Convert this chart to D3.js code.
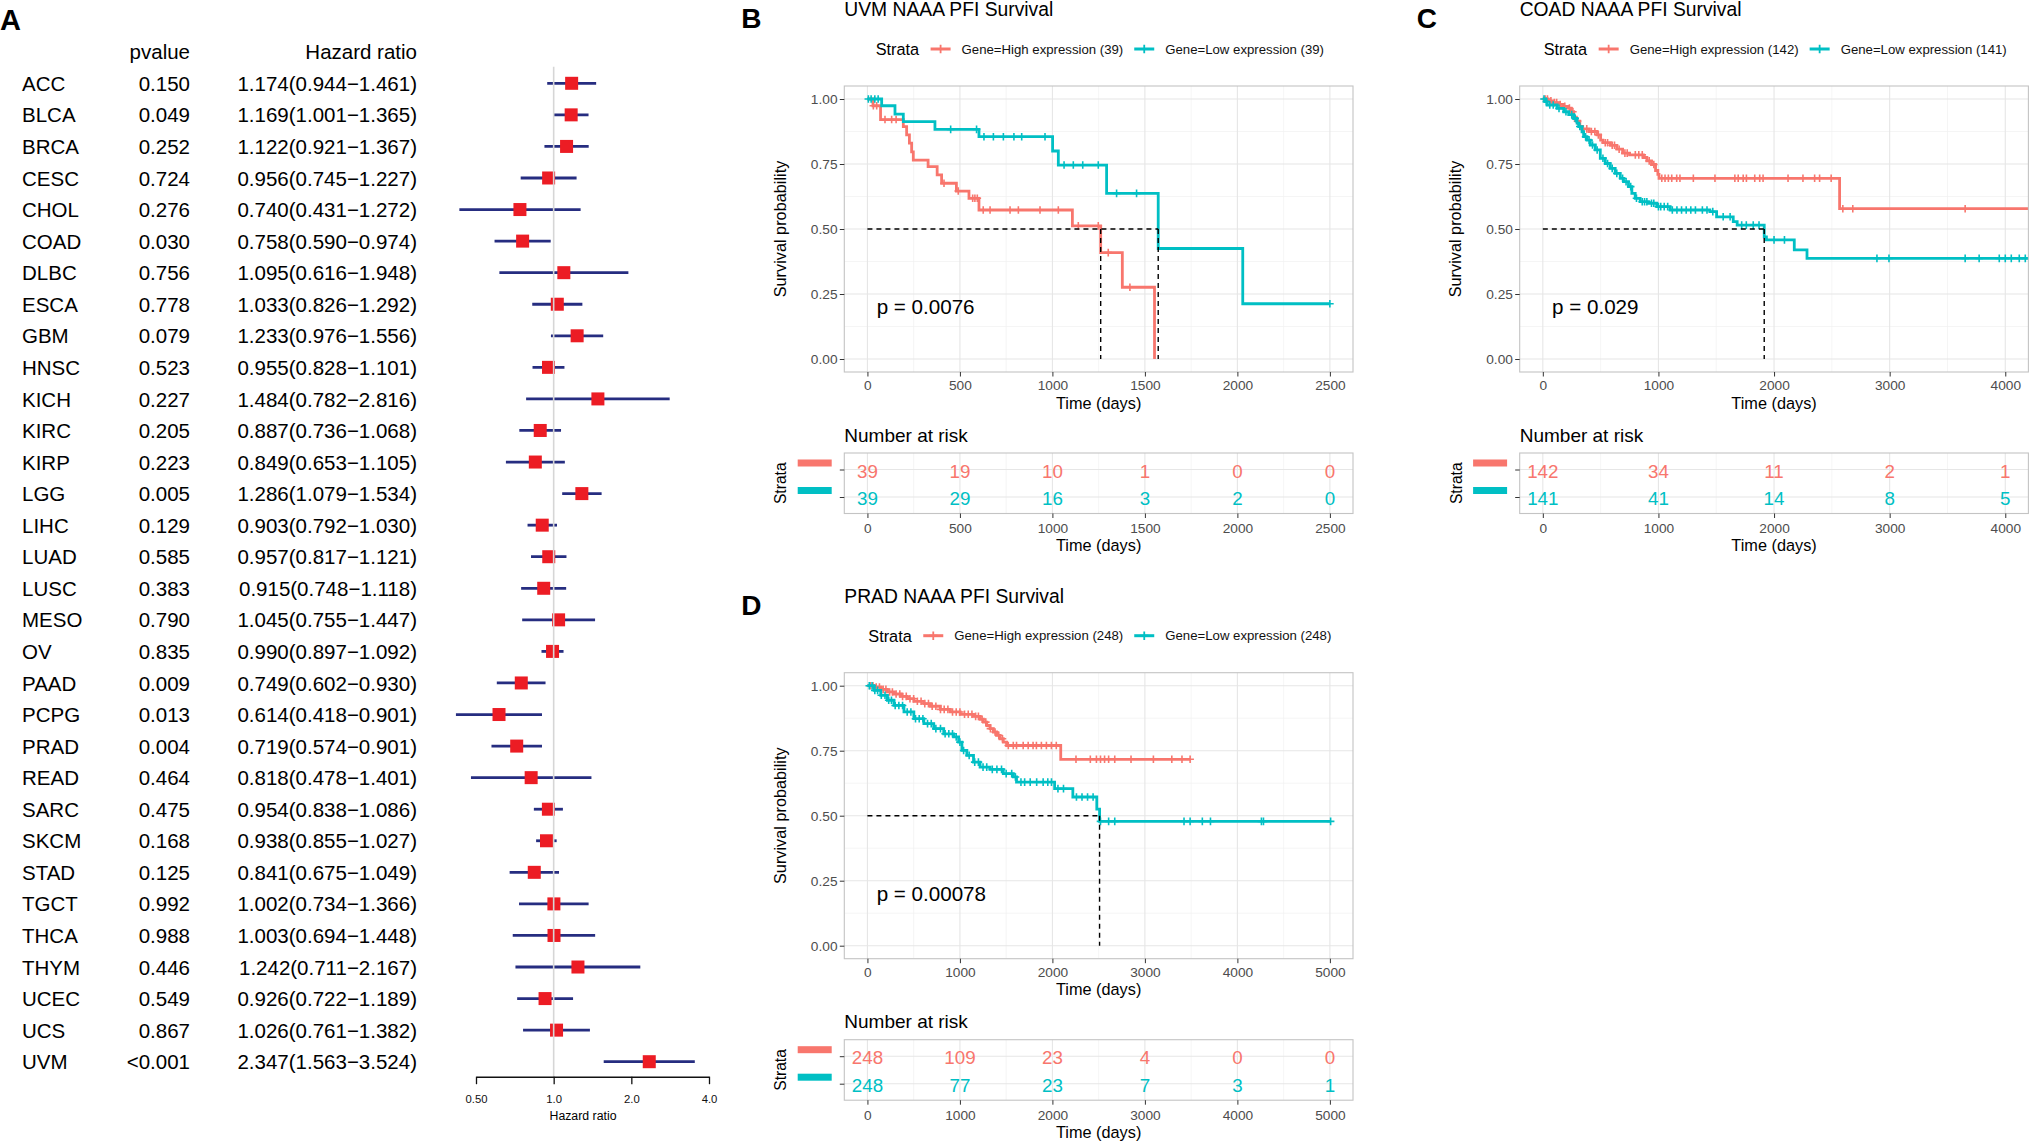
<!DOCTYPE html>
<html>
<head>
<meta charset="utf-8">
<title>NAAA PFI survival</title>
<script src="https://cdn.jsdelivr.net/npm/d3@7/dist/d3.min.js"></script>
<style>
  body { margin: 0; background: #fff; }
  svg text { font-family: "Liberation Sans", Arial, Helvetica, sans-serif; }
</style>
</head>
<body>
<script>
// ---------- Panel A: univariate Cox (PFI), one row per cancer ----------
var cancers = ["ACC", "BLCA", "BRCA", "CESC", "CHOL", "COAD", "DLBC", "ESCA", "GBM", "HNSC", "KICH",
  "KIRC", "KIRP", "LGG", "LIHC", "LUAD", "LUSC", "MESO", "OV", "PAAD", "PCPG", "PRAD", "READ", "SARC",
  "SKCM", "STAD", "TGCT", "THCA", "THYM", "UCEC", "UCS", "UVM"];
var pvalues = ["0.150", "0.049", "0.252", "0.724", "0.276", "0.030", "0.756", "0.778", "0.079", "0.523",
  "0.227", "0.205", "0.223", "0.005", "0.129", "0.585", "0.383", "0.790", "0.835", "0.009", "0.013",
  "0.004", "0.464", "0.475", "0.168", "0.125", "0.992", "0.988", "0.446", "0.549", "0.867", "<0.001"];
var hazard = [1.174, 1.169, 1.122, 0.956, 0.740, 0.758, 1.095, 1.033, 1.233, 0.955, 1.484, 0.887, 0.849,
  1.286, 0.903, 0.957, 0.915, 1.045, 0.990, 0.749, 0.614, 0.719, 0.818, 0.954, 0.938, 0.841, 1.002,
  1.003, 1.242, 0.926, 1.026, 2.347];
var lower95 = [0.944, 1.001, 0.921, 0.745, 0.431, 0.590, 0.616, 0.826, 0.976, 0.828, 0.782, 0.736, 0.653,
  1.079, 0.792, 0.817, 0.748, 0.755, 0.897, 0.602, 0.418, 0.574, 0.478, 0.838, 0.855, 0.675, 0.734,
  0.694, 0.711, 0.722, 0.761, 1.563];
var upper95 = [1.461, 1.365, 1.367, 1.227, 1.272, 0.974, 1.948, 1.292, 1.556, 1.101, 2.816, 1.068, 1.105,
  1.534, 1.030, 1.121, 1.118, 1.447, 1.092, 0.930, 0.901, 0.901, 1.401, 1.086, 1.027, 1.049, 1.366,
  1.448, 2.167, 1.189, 1.382, 3.524];
var hrTicks = [0.5, 1, 2, 4];
var hrTickLabels = ["0.50", "1.0", "2.0", "4.0"];

// ---------- Panels B-D: Kaplan-Meier, [time, survival after drop] ----------
var survTicks = [0, 0.25, 0.5, 0.75, 1];

// UVM
var uvmBreaks = [0, 500, 1000, 1500, 2000, 2500];
var uvmHighSteps = [[30, 0.974], [71, 0.921], [194, 0.894], [212, 0.862], [227, 0.83], [239, 0.797],
  [248, 0.765], [328, 0.74], [377, 0.708], [401, 0.676], [481, 0.646], [549, 0.618], [603, 0.573],
  [1108, 0.512], [1261, 0.409], [1378, 0.276], [1552, 0]];
var uvmHighCensor = [32, 50, 95, 131, 155, 414, 491, 569, 581, 594, 626, 663, 771, 816, 933, 1032, 1140,
  1248, 1302, 1419];
var uvmLowSteps = [[77, 0.974], [149, 0.942], [194, 0.913], [365, 0.883], [603, 0.855], [1001, 0.80],
  [1032, 0.746], [1293, 0.637], [1572, 0.425], [2029, 0.2125]];
var uvmLowCensor = [5, 20, 40, 58, 450, 590, 630, 681, 735, 792, 834, 960, 1063, 1113, 1164, 1248, 1347,
  1455, 2500];
var uvmHighRisk = [39, 19, 10, 1, 0, 0];
var uvmLowRisk = [39, 29, 16, 3, 2, 0];

// COAD
var coadBreaks = [0, 1000, 2000, 3000, 4000];
var coadHighSteps = [[45, 0.993], [95, 0.986], [140, 0.979], [180, 0.972], [215, 0.965], [245, 0.951],
  [267, 0.93], [290, 0.915], [320, 0.895], [335, 0.885], [400, 0.875], [470, 0.862], [500, 0.842],
  [520, 0.832], [585, 0.822], [640, 0.807], [690, 0.792], [750, 0.785], [870, 0.775], [900, 0.762],
  [940, 0.748], [975, 0.725], [995, 0.71], [1005, 0.695], [2567, 0.578]];
var coadHighCensor = [20, 40, 70, 100, 120, 150, 190, 230, 260, 300, 350, 380, 420, 450, 480, 540, 560,
  600, 620, 660, 710, 730, 800, 830, 860, 920, 960, 1029, 1057, 1086, 1115, 1158, 1186, 1302, 1489,
  1661, 1690, 1733, 1761, 1833, 1876, 1905, 2121, 2250, 2351, 2394, 2494, 2595, 2681, 3653];
var coadLowSteps = [[23, 0.99], [37, 0.977], [124, 0.964], [181, 0.951], [224, 0.94], [267, 0.925],
  [296, 0.907], [310, 0.894], [339, 0.874], [353, 0.855], [382, 0.842], [411, 0.823], [454, 0.804],
  [497, 0.772], [540, 0.752], [583, 0.733], [626, 0.714], [670, 0.695], [698, 0.682], [741, 0.663],
  [770, 0.637], [799, 0.618], [842, 0.605], [914, 0.599], [986, 0.586], [1101, 0.573], [1445, 0.567],
  [1503, 0.547], [1647, 0.528], [1681, 0.515], [1915, 0.47], [1934, 0.458], [2175, 0.42], [2285, 0.387]];
var coadLowCensor = [10, 30, 60, 90, 140, 200, 250, 280, 320, 370, 400, 430, 470, 520, 560, 600, 640,
  690, 720, 760, 810, 860, 880, 900, 940, 960, 1000, 1020, 1050, 1080, 1120, 1160, 1200, 1240, 1280,
  1320, 1380, 1420, 1470, 1560, 1620, 1720, 1760, 1820, 1870, 2000, 2090, 2890, 2994, 3653, 3774,
  3948, 4000, 4052, 4121, 4173];
var coadHighRisk = [142, 34, 11, 2, 1];
var coadLowRisk = [141, 41, 14, 8, 5];

// PRAD
var pradBreaks = [0, 1000, 2000, 3000, 4000, 5000];
var pradHighSteps = [[72, 0.995], [144, 0.986], [216, 0.976], [287, 0.968], [359, 0.959], [430, 0.95],
  [502, 0.94], [610, 0.931], [681, 0.921], [789, 0.909], [896, 0.899], [1003, 0.89], [1147, 0.882],
  [1218, 0.871], [1254, 0.86], [1290, 0.847], [1326, 0.835], [1362, 0.822], [1397, 0.809],
  [1433, 0.796], [1469, 0.783], [1505, 0.77], [2090, 0.717]];
var pradHighCensor = [30, 60, 95, 130, 170, 200, 240, 270, 310, 350, 380, 420, 460, 500, 540, 580, 620,
  660, 700, 740, 790, 830, 870, 920, 960, 1000, 1050, 1090, 1130, 1170, 1200, 1240, 1280, 1330, 1380,
  1420, 1460, 1523, 1577, 1612, 1684, 1738, 1791, 1827, 1881, 1935, 1989, 2042, 2255, 2410, 2476,
  2520, 2564, 2608, 2674, 2850, 3092, 3291, 3401, 3489];
var pradLowSteps = [[72, 0.982], [144, 0.963], [216, 0.944], [287, 0.924], [395, 0.899], [502, 0.873],
  [610, 0.854], [717, 0.835], [825, 0.815], [932, 0.803], [986, 0.783], [1022, 0.751], [1075, 0.732],
  [1147, 0.706], [1218, 0.687], [1326, 0.678], [1469, 0.662], [1577, 0.649], [1612, 0.629],
  [2024, 0.604], [2221, 0.572], [2480, 0.525], [2510, 0.478]];
var pradLowCensor = [20, 50, 80, 110, 150, 190, 230, 260, 300, 340, 380, 430, 470, 520, 560, 600, 650,
  690, 740, 790, 840, 880, 920, 960, 1000, 1040, 1100, 1160, 1200, 1250, 1290, 1350, 1400, 1450, 1500,
  1560, 1600, 1660, 1700, 1760, 1830, 1900, 1950, 1990, 2060, 2120, 2260, 2320, 2380, 2440, 2520,
  2608, 2674, 3423, 3489, 3621, 3709, 4260, 4282, 5008];
var pradHighRisk = [248, 109, 23, 4, 0, 0];
var pradLowRisk = [248, 77, 23, 7, 3, 1];

var colHigh = "#F8766D", colLow = "#00BFC4";

var W = 2030, H = 1142;
var svg = d3.select("body").append("svg").attr("width", W).attr("height", H);
svg.append("rect").attr("width", W).attr("height", H).attr("fill", "#fff");

// ================= Panel A =================
var gA = svg.append("g");
var fx = d3.scaleLog().base(2).domain([0.5, 4]).range([476, 709]);
var fy = d3.scalePoint().domain(cancers).range([83.3, 1061.7]);
var rowFont = 20.5;

gA.append("text").attr("x", 0).attr("y", 30).attr("font-size", 29).attr("font-weight", "bold").text("A");

var headY = fy(cancers[0]) - fy.step();
gA.append("text").attr("x", 190).attr("y", headY).attr("dy", "0.37em").attr("text-anchor", "end")
  .attr("font-size", rowFont).text("pvalue");
gA.append("text").attr("x", 417).attr("y", headY).attr("dy", "0.37em").attr("text-anchor", "end")
  .attr("font-size", rowFont).text("Hazard ratio");

var rows = gA.selectAll("g.row").data(cancers).enter().append("g").attr("class", "row")
  .attr("transform", function (d) { return "translate(0," + fy(d) + ")"; });
rows.append("text").attr("x", 22).attr("dy", "0.37em").attr("font-size", rowFont).text(function (d) { return d; });
rows.append("text").attr("x", 190).attr("dy", "0.37em").attr("text-anchor", "end").attr("font-size", rowFont)
  .text(function (d, i) { return pvalues[i]; });
rows.append("text").attr("x", 417).attr("dy", "0.37em").attr("text-anchor", "end").attr("font-size", rowFont)
  .text(function (d, i) {
    return hazard[i].toFixed(3) + "(" + lower95[i].toFixed(3) + "\u2212" + upper95[i].toFixed(3) + ")";
  });

// reference line at HR = 1
gA.append("line").attr("x1", fx(1)).attr("x2", fx(1)).attr("y1", 66.7).attr("y2", 1076.7)
  .attr("stroke", "#d6d6d6").attr("stroke-width", 1.6);

rows.append("line")
  .attr("x1", function (d, i) { return fx(lower95[i]); })
  .attr("x2", function (d, i) { return fx(upper95[i]); })
  .attr("stroke", "#262d80").attr("stroke-width", 2.8);
rows.append("rect")
  .attr("x", function (d, i) { return fx(hazard[i]) - 6.5; })
  .attr("y", -6.5).attr("width", 13).attr("height", 13)
  .attr("fill", "#ec1c24");

var axA = gA.append("g").attr("transform", "translate(0,1076.7)")
  .call(d3.axisBottom(fx).tickValues(hrTicks)
    .tickFormat(function (d, i) { return hrTickLabels[i]; })
    .tickSize(7.5).tickPadding(10.5).tickSizeOuter(0));
axA.attr("font-family", null);
axA.select(".domain").attr("stroke", "#111").attr("stroke-width", 1.6);
axA.selectAll(".tick line").attr("stroke", "#111").attr("stroke-width", 1.3);
axA.selectAll(".tick text").attr("font-size", 11.3).attr("fill", "#111");
gA.append("text").attr("x", 583).attr("y", 1120).attr("text-anchor", "middle").attr("font-size", 12.3)
  .text("Hazard ratio");

// ================= Panels B-D =================
function survAt(steps, t) {
  var s = 1;
  steps.forEach(function (d) { if (d[0] <= t) s = d[1]; });
  return s;
}
function plus(r) { return "M" + (-r) + ",0H" + r + "M0," + (-r) + "V" + r; }
function styleAxis(a, size) {
  a.attr("font-family", null);
  a.select(".domain").remove();
  a.selectAll(".tick line").attr("stroke", "#333").attr("stroke-width", 1);
  a.selectAll(".tick text").attr("font-size", size).attr("fill", "#4d4d4d");
}

function drawKM(p) {
  var g = svg.append("g").attr("transform", "translate(" + p.left + "," + p.top + ")");
  var pw = 508.7, py = 86, ph = 286;
  var rt = 453, rh = 60.5;
  var x = d3.scaleLinear().domain([-0.05 * p.maxT, 1.05 * p.maxT]).range([0, pw]);
  var y = d3.scaleLinear().domain([-0.05, 1.05]).range([py + ph, py]);
  var minorX = d3.pairs(p.breaks).map(function (b) { return (b[0] + b[1]) / 2; });
  var minorY = d3.pairs(survTicks).map(function (b) { return (b[0] + b[1]) / 2; });
  var dayFmt = d3.format("d");

  g.append("text").attr("x", -103).attr("y", 28).attr("font-size", 28).attr("font-weight", "bold").text(p.letter);
  g.append("text").attr("x", 0).attr("y", 16).attr("font-size", 19.3).text(p.title);

  // legend on top, centred
  var lg = g.append("g");
  var lt = lg.append("text").attr("y", 5.8).attr("font-size", 16.3).text("Strata");
  var cx = lt.node().getComputedTextLength() + 11.5;
  p.groups.forEach(function (s) {
    var key = lg.append("g").attr("transform", "translate(" + (cx + 10) + ",0)");
    key.append("line").attr("x1", -10).attr("x2", 10).attr("stroke", s.color).attr("stroke-width", 3);
    key.append("path").attr("d", plus(4.2)).attr("stroke", s.color).attr("stroke-width", 1.8);
    cx += 31;
    var t = lg.append("text").attr("x", cx).attr("y", 4.6).attr("font-size", 13.2).attr("fill", "#111").text(s.label);
    cx += t.node().getComputedTextLength() + 11;
  });
  cx -= 11;
  lg.attr("transform", "translate(" + (255.5 - cx / 2) + ",49)");

  // survival panel
  g.append("rect").attr("x", 0).attr("y", py).attr("width", pw).attr("height", ph).attr("fill", "#fff");
  var grid = g.append("g");
  grid.selectAll(null).data(minorX).enter().append("line")
    .attr("x1", x).attr("x2", x).attr("y1", py).attr("y2", py + ph)
    .attr("stroke", "#f0f0f0").attr("stroke-width", 0.7);
  grid.selectAll(null).data(minorY).enter().append("line")
    .attr("y1", y).attr("y2", y).attr("x1", 0).attr("x2", pw)
    .attr("stroke", "#f0f0f0").attr("stroke-width", 0.7);
  grid.selectAll(null).data(p.breaks).enter().append("line")
    .attr("x1", x).attr("x2", x).attr("y1", py).attr("y2", py + ph)
    .attr("stroke", "#e6e6e6").attr("stroke-width", 1.1);
  grid.selectAll(null).data(survTicks).enter().append("line")
    .attr("y1", y).attr("y2", y).attr("x1", 0).attr("x2", pw)
    .attr("stroke", "#e6e6e6").attr("stroke-width", 1.1);

  var clipId = "clip" + p.letter;
  g.append("clipPath").attr("id", clipId).append("rect")
    .attr("x", 0).attr("y", py).attr("width", pw).attr("height", ph);
  var plot = g.append("g").attr("clip-path", "url(#" + clipId + ")");
  var line = d3.line().curve(d3.curveStepAfter)
    .x(function (d) { return x(d[0]); }).y(function (d) { return y(d[1]); });

  p.groups.forEach(function (s) {
    var pts = [[0, 1]].concat(s.steps).concat([[s.end, s.steps[s.steps.length - 1][1]]]);
    plot.append("path").attr("d", line(pts)).attr("fill", "none")
      .attr("stroke", s.color).attr("stroke-width", 2.8);
    plot.selectAll(null).data(s.censor).enter().append("path")
      .attr("transform", function (t) { return "translate(" + x(t) + "," + y(survAt(s.steps, t)) + ")"; })
      .attr("d", plus(3.8)).attr("stroke", s.color).attr("stroke-width", 1.6).attr("fill", "none");
  });

  // median survival lines
  var medians = p.groups.map(function (s) {
    var f = s.steps.find(function (d) { return d[1] <= 0.5; });
    return f ? f[0] : null;
  }).filter(function (m) { return m !== null; });
  if (medians.length) {
    plot.append("line").attr("x1", x(0)).attr("x2", x(d3.max(medians)))
      .attr("y1", y(0.5)).attr("y2", y(0.5))
      .attr("stroke", "#000").attr("stroke-width", 1.4).attr("stroke-dasharray", "5,4");
    plot.selectAll(null).data(medians).enter().append("line")
      .attr("x1", x).attr("x2", x).attr("y1", y(0.5)).attr("y2", y(0))
      .attr("stroke", "#000").attr("stroke-width", 1.4).attr("stroke-dasharray", "5,4");
  }

  g.append("text").attr("x", x(p.maxT / 50)).attr("y", y(0.2)).attr("dy", "0.36em")
    .attr("font-size", 20.6).text(p.pval);

  g.append("rect").attr("x", 0).attr("y", py).attr("width", pw).attr("height", ph)
    .attr("fill", "none").attr("stroke", "#c4c4c4").attr("stroke-width", 1.1);

  var ya = g.append("g").call(d3.axisLeft(y).tickValues(survTicks).tickFormat(d3.format(".2f"))
    .tickSize(4.5).tickPadding(2.3));
  styleAxis(ya, 13.7);
  var xa = g.append("g").attr("transform", "translate(0," + (py + ph) + ")")
    .call(d3.axisBottom(x).tickValues(p.breaks).tickFormat(dayFmt).tickSize(4.5).tickPadding(3.7));
  styleAxis(xa, 13.7);

  g.append("text").attr("x", pw / 2).attr("y", 408.5).attr("text-anchor", "middle")
    .attr("font-size", 16.3).text("Time (days)");
  g.append("text").attr("transform", "translate(-58.5," + (py + ph / 2) + ") rotate(-90)")
    .attr("text-anchor", "middle").attr("font-size", 16.3).text("Survival probability");

  // number at risk table
  g.append("text").attr("x", 0).attr("y", 441.5).attr("font-size", 19).text("Number at risk");
  var ry = d3.scalePoint().domain(p.groups.map(function (s) { return s.key; }))
    .range([rt, rt + rh]).padding(0.6);
  g.append("rect").attr("x", 0).attr("y", rt).attr("width", pw).attr("height", rh).attr("fill", "#fff");
  var rg = g.append("g");
  rg.selectAll(null).data(minorX).enter().append("line")
    .attr("x1", x).attr("x2", x).attr("y1", rt).attr("y2", rt + rh)
    .attr("stroke", "#f0f0f0").attr("stroke-width", 0.7);
  rg.selectAll(null).data(p.breaks).enter().append("line")
    .attr("x1", x).attr("x2", x).attr("y1", rt).attr("y2", rt + rh)
    .attr("stroke", "#e6e6e6").attr("stroke-width", 1.1);
  rg.selectAll(null).data(ry.domain()).enter().append("line")
    .attr("y1", ry).attr("y2", ry).attr("x1", 0).attr("x2", pw)
    .attr("stroke", "#e6e6e6").attr("stroke-width", 1.1);
  p.groups.forEach(function (s) {
    g.selectAll(null).data(s.risk).enter().append("text")
      .attr("x", function (d, i) { return x(p.breaks[i]); })
      .attr("y", ry(s.key)).attr("dy", "0.43em")
      .attr("text-anchor", "middle").attr("font-size", 18.8).attr("fill", s.color)
      .text(function (d) { return d; });
    g.append("rect").attr("x", -46.6).attr("y", ry(s.key) - 10).attr("width", 34).attr("height", 7)
      .attr("fill", s.color);
  });
  g.append("rect").attr("x", 0).attr("y", rt).attr("width", pw).attr("height", rh)
    .attr("fill", "none").attr("stroke", "#c4c4c4").attr("stroke-width", 1.1);
  var rya = g.append("g").call(d3.axisLeft(ry).tickSize(4.5).tickFormat(""));
  styleAxis(rya, 13.7);
  var rxa = g.append("g").attr("transform", "translate(0," + (rt + rh) + ")")
    .call(d3.axisBottom(x).tickValues(p.breaks).tickFormat(dayFmt).tickSize(4.5).tickPadding(5.1));
  styleAxis(rxa, 13.7);
  g.append("text").attr("x", pw / 2).attr("y", 551).attr("text-anchor", "middle")
    .attr("font-size", 16.3).text("Time (days)");
  g.append("text").attr("transform", "translate(-58," + (rt + rh / 2) + ") rotate(-90)")
    .attr("text-anchor", "middle").attr("font-size", 15.6).text("Strata");
}

var kmPanels = [
  { letter: "B", left: 844.3, top: 0, title: "UVM NAAA PFI Survival", maxT: 2500, breaks: uvmBreaks,
    pval: "p = 0.0076",
    groups: [
      { key: "high", label: "Gene=High expression (39)", color: colHigh, steps: uvmHighSteps,
        censor: uvmHighCensor, end: 1552, risk: uvmHighRisk },
      { key: "low", label: "Gene=Low expression (39)", color: colLow, steps: uvmLowSteps,
        censor: uvmLowCensor, end: 2500, risk: uvmLowRisk }] },
  { letter: "C", left: 1519.7, top: 0, title: "COAD NAAA PFI Survival", maxT: 4000, breaks: coadBreaks,
    pval: "p = 0.029",
    groups: [
      { key: "high", label: "Gene=High expression (142)", color: colHigh, steps: coadHighSteps,
        censor: coadHighCensor, end: 4260, risk: coadHighRisk },
      { key: "low", label: "Gene=Low expression (141)", color: colLow, steps: coadLowSteps,
        censor: coadLowCensor, end: 4260, risk: coadLowRisk }] },
  { letter: "D", left: 844.3, top: 586.7, title: "PRAD NAAA PFI Survival", maxT: 5000, breaks: pradBreaks,
    pval: "p = 0.00078",
    groups: [
      { key: "high", label: "Gene=High expression (248)", color: colHigh, steps: pradHighSteps,
        censor: pradHighCensor, end: 3489, risk: pradHighRisk },
      { key: "low", label: "Gene=Low expression (248)", color: colLow, steps: pradLowSteps,
        censor: pradLowCensor, end: 5008, risk: pradLowRisk }] }
];

kmPanels.forEach(drawKM);
</script>
</body>
</html>
